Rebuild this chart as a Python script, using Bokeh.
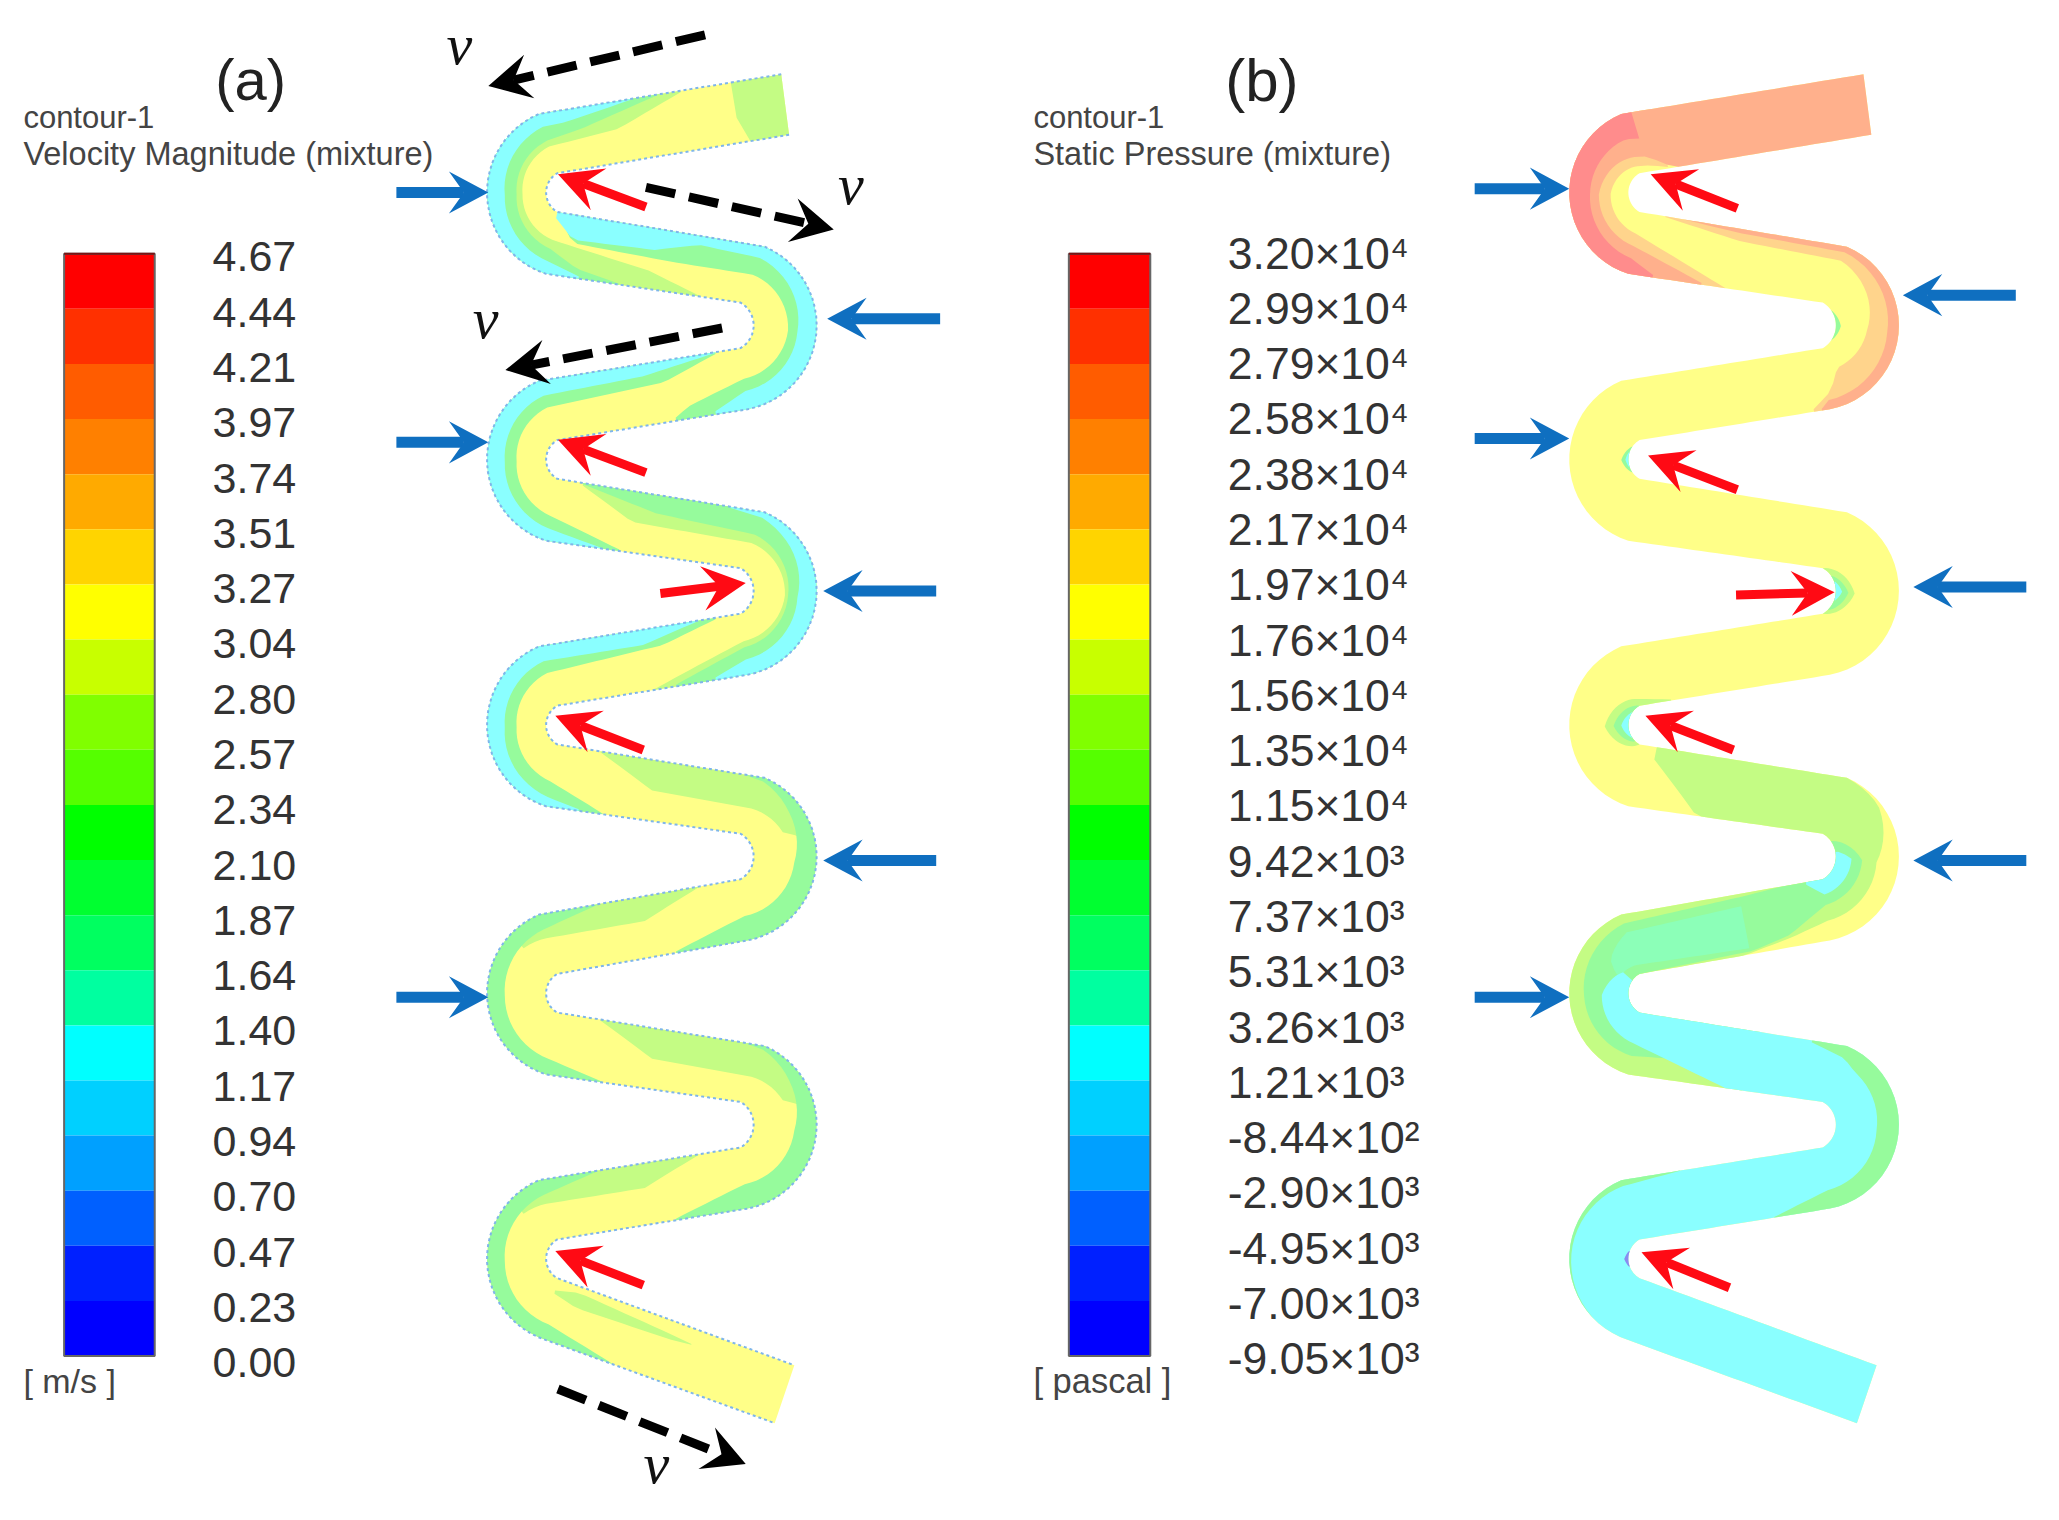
import numpy as np
from bokeh.plotting import figure
from bokeh.models import Range1d
from bokeh.core.properties import value
from bokeh.embed import file_html
from bokeh.resources import INLINE

# ---------- data ----------
velocity_ticks = ["4.67","4.44","4.21","3.97","3.74","3.51","3.27","3.04","2.80","2.57","2.34",
                  "2.10","1.87","1.64","1.40","1.17","0.94","0.70","0.47","0.23","0.00"]
pressure_ticks = ["3.20×10⁴","2.99×10⁴","2.79×10⁴","2.58×10⁴","2.38×10⁴","2.17×10⁴","1.97×10⁴",
                  "1.76×10⁴","1.56×10⁴","1.35×10⁴","1.15×10⁴","9.42×10³","7.37×10³","5.31×10³",
                  "3.26×10³","1.21×10³","-8.44×10²","-2.90×10³","-4.95×10³","-7.00×10³","-9.05×10³"]
band_colors = ["#ff0000","#ff3000","#ff5c00","#ff8000","#ffaa00","#ffd400","#ffff00","#c8ff00","#80ff00",
               "#55ff00","#00ff00","#00ff30","#00ff60","#00ffa0","#00ffff","#00d0ff","#00a0ff","#0060ff",
               "#0020ff","#0000ff"]

left_bend_y = [147, 350, 552, 756, 958]
right_bend_y = [248, 450, 652, 856]

blue_a = [(302,147,372,147),(716,243,630,243),(302,337,372,337),(713,450,627,450),(713,655,627,655),(302,759,372,759)]
red_a = [(492,158,425,133),(492,360,425,335),(503,452,568,444),(490,571,423,545),(490,978,423,952)]
black_a = [(537,27,372,66),(492,143,635,175),(550,250,385,282),(425,1057,568,1114)]
v_labels = [(350,34),(648,141),(370,243),(500,1114)]
blue_b = [(1123,144,1195,144),(1535,225,1449,225),(1123,334,1195,334),(1543,447,1457,447),(1543,655,1457,655),(1123,759,1195,759)]
red_b = [(1323,159,1257,133),(1323,373,1255,347),(1322,453,1397,451),(1320,571,1253,545),(1317,980,1250,953)]

Y, C, M, L = "#ffff88", "#8affff", "#96fb9c", "#c4fc84"
P, O, S_, M2 = "#ffb08c", "#ffd48c", "#ff8c8c", "#8cffb8"

overlays_a = [
 (L, [(0,0,1),(0.2,0,1),(0.22,.0,.0)]),
 (L, [(0.4,0,0),(0.7,0,.45),(1,0,.55),(1.5,0,.6),(2,0,.55),(2.5,0,.3),(2.8,0,0)]),
 (M, [(0.5,0,0),(0.85,0,.35),(1,0,.45),(1.5,0,.5),(2,0,.4),(2.15,0,.15),(2.4,0,0)]),
 (C, [(0.6,0,0),(0.9,0,.2),(1.5,0,.3),(2,0,.2),(2.2,0,0)]),
 (M, [(2,1,1),(2.1,.55,1),(2.6,.5,1),(3,.5,1),(3.5,.55,1),(4,.5,1),(4.3,.8,1),(4.4,1,1)]),
 (C, [(2,.9,1),(2.1,.6,1),(2.5,.65,1),(2.7,.85,1),(3,.8,1),(3.5,.7,1),(4,.7,1),(4.2,1,1)]),
 (M, [(4.1,0,0),(4.4,0,.35),(5,0,.45),(5.5,0,.5),(6,0,.4),(6.4,0,0)]),
 (C, [(4.1,0,0),(4.5,0,.2),(5,0,.25),(5.5,0,.3),(6,0,.2),(6.3,0,0)]),
 (L, [(6.1,1,1),(6.4,.5,1),(7,.45,1),(7.5,.5,1),(8,.45,1),(8.5,1,1)]),
 (M, [(6.1,1,1),(6.5,.7,1),(7,.6,1),(7.5,.55,1),(8,.55,1),(8.4,1,1)]),
 (C, [(6.8,1,1),(7.1,.85,1),(7.5,.7,1),(8,.75,1),(8.2,1,1)]),
 (M, [(8.1,0,0),(8.4,0,.3),(9,0,.45),(9.5,0,.5),(10,0,.4),(10.3,0,0)]),
 (C, [(8.2,0,0),(8.5,0,.25),(9,0,.25),(9.5,0,.3),(10,0,.15),(10.2,0,0)]),
 (L, [(10.2,1,1),(10.5,.5,1),(11,.45,1),(11.3,.55,1),(11.4,1,1)]),
 (M, [(10.9,1,1),(11.2,.8,1),(11.5,.65,1),(12,.6,1),(12.4,1,1)]),
 (L, [(12.2,0,0),(12.5,0,.4),(13,0,.4),(13.2,0,.3)]),
 (M, [(12.7,0,0),(13,0,.25),(13.5,0,.3),(14,0,.25),(14.3,0,0)]),
 (L, [(14.2,1,1),(14.5,.5,1),(15,.45,1),(15.3,.55,1),(15.4,1,1)]),
 (M, [(14.9,1,1),(15.2,.8,1),(15.5,.65,1),(16,.6,1),(16.4,1,1)]),
 (L, [(16.2,0,0),(16.5,0,.4),(17,0,.4),(17.2,0,.3)]),
 (M, [(16.7,0,0),(17,0,.25),(17.5,0,.3),(18,0,.25),(18.3,0,0)]),
 (L, [(18,.75,.8),(18.1,.65,.9),(18.5,.7,.78),(18.6,.74,.74)]),
]
overlays_b = [
 (O, [(.85,0,1),(.95,0,.9),(1.5,0,.7),(2,0,.65),(2.5,0,0)]),
 (P, [(0,0,1),(.85,0,1),(.95,0,.75),(1.5,0,.5),(2,0,.45),(2.4,0,0)]),
 (S_, [(.93,0,0),(.94,0,.45),(1.05,0,.4),(1.5,0,.35),(2,0,.25),(2.15,0,0)]),
 (O, [(2.1,1,1),(2.5,.8,1),(3,.75,1),(3.5,.5,1),(3.9,.4,1),(4,.75,1),(4.1,1,1)]),
 (P, [(2.2,1,1),(2.5,.93,1),(3,.9,1),(3.5,.82,1),(4,.85,1),(4.05,1,1)]),
 (M, [(3.2,0,0),(3.5,0,.08),(3.8,0,0)]),
 (M, [(5.2,1,1),(5.5,.88,1),(5.8,1,1)]),
 (C, [(5.3,1,1),(5.5,.95,1),(5.7,1,1)]),
 (L, [(7,0,0),(7.5,0,.3),(8,0,0)]),
 (M, [(7.2,0,0),(7.5,0,.2),(7.9,0,0)]),
 (C, [(7.3,0,0),(7.5,0,.1),(7.7,0,0)]),
 (L, [(8.8,1,1),(9.5,.6,1),(10,1,1)]),
 (M, [(9,1,1),(9.5,.75,1),(9.9,1,1)]),
 (C, [(9.2,1,1),(9.5,.88,1),(9.8,1,1)]),
 (L, [(10.05,.9,1),(10.35,0,1),(11,0,1),(11.2,0,.95),(11.5,0,.65),(12,0,.68),(12.2,0,.85),(12.45,0,1),(14,0,1),(14.4,0,.5),(14.6,0,0)]),
 (M, [(11.2,0,0),(11.5,0,.42),(12,0,.42),(12.2,0,.8),(12.4,.05,.95),(13,.15,1),(13.5,.25,1),(14,.3,1),(14.2,.35,1),(14.4,.4,1),(14.5,.9,1),(14.6,1,1)]),
 (M2,[(12.4,.2,.9),(13,.3,.85),(13.2,.5,.8),(13.3,.8,.8)]),
 (C, [(11.4,0,0),(11.5,0,.25),(12,0,.25),(12.1,0,0)]),
 (C, [(13.2,.8,1),(13.5,.55,1),(14,.5,1),(14.3,.2,1),(14.5,0,1),(19,0,1)]),
 (M, [(14.8,1,1),(15.1,.7,1),(15.5,.65,1),(16,.7,1),(16.3,1,1)]),
 (M, [(16.7,0,0),(17,0,.1),(17.4,0,.04),(17.8,0,0)]),
 ("#8a8cf0", [(17.3,1,1),(17.5,.93,1),(17.7,1,1)]),
]

# ---------- tube geometry ----------
S = 2059 / 1563          # drawing units -> pixels
FIG_W, FIG_H = 2043, 1510
SX, SY = S * 0.997, S * 0.998
N = 24
DX = 824
OUTER_R, LEFT_NOTCH_R, RIGHT_NOTCH_R = 65, 17, 20

def arc(cx, cy, r, a0, a1):
    ang = np.radians(np.linspace(a0, a1, N + 1))
    return np.column_stack([cx + r * np.cos(ang), cy + r * np.sin(ang)])

def line(p, q):
    return np.column_stack([np.linspace(p[0], q[0], N + 1), np.linspace(p[1], q[1], N + 1)])

def wall(first_end, last_end, arcs):
    pts, prev = [], np.array(first_end, float)
    for a in arcs:
        pts.append(line(prev, a[0])[:-1])
        pts.append(a[:-1])
        prev = a[-1]
    pts.append(line(prev, last_end))
    return np.vstack(pts)

arcs_A, arcs_B = [], []
for i, ly in enumerate(left_bend_y):
    arcs_A.append(arc(436, ly, OUTER_R, 247, 108))
    arcs_B.append(arc(433, ly, LEFT_NOTCH_R, 240, 120))
    if i < len(right_bend_y):
        ry = right_bend_y[i]
        arcs_A.append(arc(554, ry, RIGHT_NOTCH_R, -60, 60))
        arcs_B.append(arc(557, ry, OUTER_R, -67, 79))
wall_A = wall((595, 57), (590, 1083), arcs_A)
wall_B = wall((601, 103), (605, 1039), arcs_B)
grid_s = np.arange(len(wall_A)) / N

def strip(table):
    t = np.array(table, float)
    idx = np.where((grid_s >= t[0, 0]) & (grid_s <= t[-1, 0]))[0]
    s = grid_s[idx]
    t0 = np.interp(s, t[:, 0], t[:, 1])[:, None]
    t1 = np.interp(s, t[:, 0], t[:, 2])[:, None]
    p0 = wall_A[idx] * (1 - t0) + wall_B[idx] * t0
    p1 = wall_A[idx] * (1 - t1) + wall_B[idx] * t1
    return np.vstack([p0, p1[::-1]])

p = figure(width=FIG_W, height=FIG_H, output_backend="svg", toolbar_location=None,
           x_range=Range1d(0.57, 0.57 + FIG_W / SX), y_range=Range1d(0.9 + FIG_H / SY, 0.9),
           x_axis_type=None, y_axis_type=None, min_border=0, outline_line_color=None,
           background_fill_color="white", border_fill_color="white")
p.grid.visible = False

def draw_tube(dx, overlays, border):
    outline = np.vstack([wall_A, wall_B[::-1]])
    p.patch(outline[:, 0] + dx, outline[:, 1], fill_color=Y, line_color=None)
    for col, table in overlays:
        poly = strip(table)
        p.patch(poly[:, 0] + dx, poly[:, 1], fill_color=col, line_color=None)
    if border:
        for w in (wall_A, wall_B):
            p.line(w[:, 0] + dx, w[:, 1], line_color="#7fb6ea", line_width=2, line_dash="3 3")

draw_tube(0, overlays_a, True)
draw_tube(DX, overlays_b, False)

# ---------- colour bars ----------
def colorbar(x0, x1, labels, label_x, first_y, last_y, size):
    edges = np.linspace(193.5, 1032, len(band_colors) + 1)
    p.quad(left=x0, right=x1, top=edges[:-1], bottom=edges[1:], fill_color=band_colors, line_color=None)
    p.quad(left=x0, right=x1, top=edges[0], bottom=edges[-1], fill_color=None, line_color="#666666", line_width=2)
    p.segment(x0, edges[0], x1, edges[0], line_color="#7a1414", line_width=2)
    ys = np.linspace(first_y, last_y, len(labels))
    p.text(x=[label_x] * len(labels), y=ys, text=labels, text_font=value("Liberation Sans"),
           text_font_size=size, text_color="#333333", text_align="left", text_baseline="middle")

colorbar(49, 118, velocity_ticks, 162, 196, 1037, "43px")
colorbar(814, 876, pressure_ticks, 935, 193, 1034, "44.5px")

def label(x, y, txt, size, font="Liberation Sans", style="normal", color="#444444", align="left"):
    p.text(x=[x], y=[y], text=[txt], text_font=value(font), text_font_size=size, text_color=color,
           text_font_style=style, text_align=align, text_baseline="middle")

label(18, 90, "contour-1", "31px")
label(18, 118, "Velocity Magnitude (mixture)", "32.5px")
label(18, 1051, "[ m/s ]", "34px")
label(191, 61, "(a)", "58px", color="#222222", align="center")
label(787, 90, "contour-1", "31px")
label(787, 118, "Static Pressure (mixture)", "32.5px")
label(787, 1051, "[ pascal ]", "34.5px")
label(961, 62, "(b)", "60px", color="#222222", align="center")
for x, y in v_labels:
    label(x, y, "v", "58px", font="Liberation Serif", style="italic", color="#111111", align="center")

# ---------- arrows ----------
def arrows(items, color, width, head_len, head_half, dash=None):
    for x0, y0, x1, y1 in items:
        d = np.array([x1 - x0, y1 - y0], float)
        d /= np.hypot(*d)
        n = np.array([-d[1], d[0]])
        tip = np.array([x1, y1], float)
        notch = tip - d * head_len * 0.62
        back = tip - d * head_len
        kw = dict(line_color=color, line_width=width, line_cap="butt")
        if dash:
            kw["line_dash"] = dash
        p.line([x0, notch[0]], [y0, notch[1]], **kw)
        h = np.array([tip, back + n * head_half, notch, back - n * head_half])
        p.patch(h[:, 0], h[:, 1], fill_color=color, line_color=None)

arrows(blue_a + blue_b, "#0f6fc0", 11, 30, 16)
arrows(red_a + red_b, "#ff0a14", 9, 33, 17)
arrows(black_a, "#000000", 9, 32, 17, dash="30 14")

open("out.html", "w").write(file_html(p, INLINE))
